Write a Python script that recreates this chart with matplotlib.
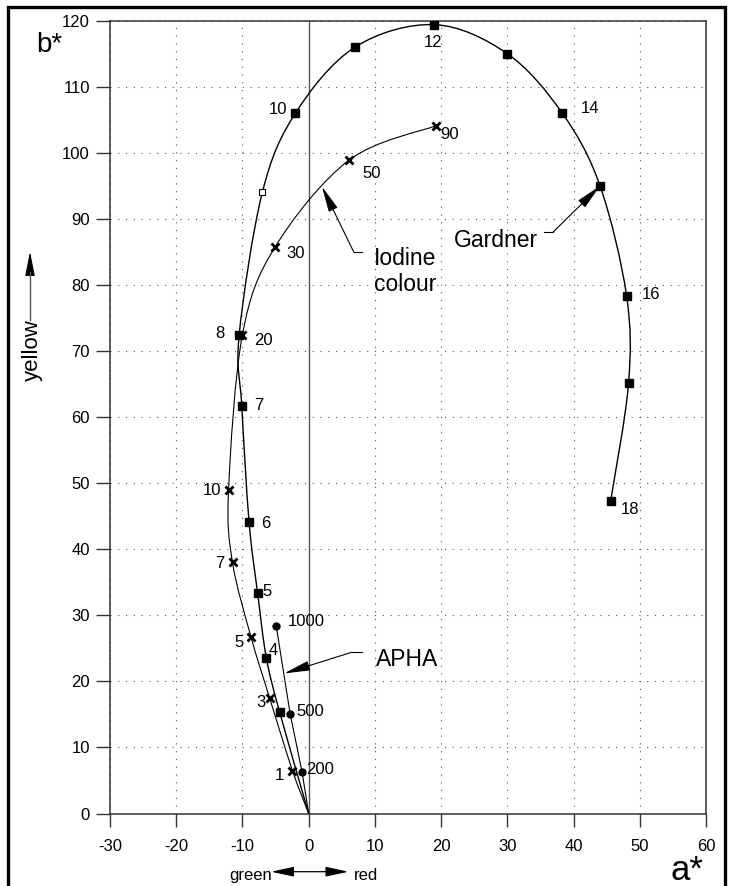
import numpy as np
import matplotlib
matplotlib.use("Agg")
import matplotlib.pyplot as plt
from matplotlib.path import Path
from matplotlib.patches import PathPatch, Rectangle, FancyArrowPatch
from matplotlib.lines import Line2D

plt.rcParams['font.family'] = ['Liberation Sans', 'DejaVu Sans']

# Gardner scale (filled squares, no. 9 drawn open)
gardner_num = [3, 4, 5, 6, 7, 8, 9, 10, 11, 12, 13, 14, 15, 16, 17, 18]
gardner_a = [-4.4, -6.4, -7.7, -9.0, -10.1, -10.5, -7.0, -2.0, 7.0, 19.0, 30.0, 38.3, 44.0, 48.0, 48.3, 45.6]
gardner_b = [15.4, 23.6, 33.3, 44.1, 61.7, 72.4, 94.0, 106.0, 116.0, 119.4, 115.0, 106.0, 95.0, 78.4, 65.1, 47.3]
gardner_open = [9]

# Iodine colour scale (crosses)
iodine_num = [1, 3, 5, 7, 10, 20, 30, 50, 90]
iodine_a = [-2.45, -5.9, -8.7, -11.5, -12.1, -10.0, -5.1, 6.1, 19.2]
iodine_b = [6.5, 17.5, 26.7, 38.0, 48.9, 72.5, 85.7, 98.9, 104.1]

# APHA scale (circles)
apha_num = [200, 500, 1000]
apha_a = [-1.0, -2.8, -4.9]
apha_b = [6.3, 15.1, 28.4]

x_ticks = np.arange(-30, 61, 10)
y_ticks = np.arange(0, 121, 10)

# label offsets in pixels (dx, dy)
gardner_off = {4: (7, 9), 5: (9, 3), 6: (17, 0), 7: (17, 2), 8: (-19, 3), 10: (-17, 5),
               12: (-1, -16), 14: (28, 6), 16: (24, 3), 18: (19, -7)}
iodine_off = {1: (-13, -3), 3: (-9, -3), 5: (-12, -4), 7: (-13, 0), 10: (-17, 1),
              20: (21, -4), 30: (21, -5), 50: (23, -12), 90: (14, -7)}
apha_off = {200: (18, 4), 500: (20, 4), 1000: (30, 6)}

W, H = 729, 886


def fx(px):
    return px / W


def fy(py):
    return 1 - py / H


def smooth_path(xs, ys):
    p = np.column_stack([xs, ys])
    ext = np.vstack([p[0], p, p[-1]])
    verts = [p[0]]
    codes = [Path.MOVETO]
    for i in range(len(p) - 1):
        p0, p1, p2, p3 = ext[i], ext[i + 1], ext[i + 2], ext[i + 3]
        verts += [p1 + (p2 - p0) / 6, p2 - (p3 - p1) / 6, p2]
        codes += [Path.CURVE4] * 3
    return Path(verts, codes)


fig = plt.figure(figsize=(W / 100, H / 100), dpi=100)
ax = fig.add_axes([fx(110), fy(813.5), fx(706) - fx(110), fy(20.7) - fy(813.5)])

ax.set_xlim(-30, 60)
ax.set_ylim(0, 120)
ax.set_xticks(x_ticks)
ax.set_yticks(y_ticks)
ax.set_xticklabels([str(v) for v in x_ticks])
ax.set_yticklabels([str(v) for v in y_ticks])
ax.tick_params(axis='x', direction='out', length=9.5, width=1.0, color='#333333', pad=9, labelsize=12)
ax.tick_params(axis='y', direction='out', length=10, width=1.0, color='#333333', pad=4.5, labelsize=12)
for s in ax.spines.values():
    s.set_color('#333333')
    s.set_linewidth(1.1)

ax.grid(True, color='#555555', linestyle=(0, (1, 6)), linewidth=0.8)
ax.axvline(0, color='#555555', linewidth=1.0, zorder=2)

# curves
g_path = smooth_path([0] + gardner_a, [0] + gardner_b)
ax.add_patch(PathPatch(g_path, facecolor='none', edgecolor='black', linewidth=1.0, zorder=3))
i_path = smooth_path([0] + iodine_a, [0] + iodine_b)
ax.add_patch(PathPatch(i_path, facecolor='none', edgecolor='black', linewidth=0.8, zorder=3))
ax.plot([0] + apha_a, [0] + apha_b, color='black', linewidth=0.8, zorder=3)

# markers
g_fill = [k for k, n in enumerate(gardner_num) if n not in gardner_open]
g_open = [k for k, n in enumerate(gardner_num) if n in gardner_open]
ax.plot([gardner_a[k] for k in g_fill], [gardner_b[k] for k in g_fill], 's', color='black',
        markersize=5.2, zorder=4)
ax.plot([gardner_a[k] for k in g_open], [gardner_b[k] for k in g_open], 's', markerfacecolor='white',
        markeredgecolor='black', markeredgewidth=0.8, markersize=4.3, zorder=4)
ax.plot(iodine_a, iodine_b, 'x', color='black', markersize=5.5, markeredgewidth=2.0, zorder=4)
ax.plot(apha_a, apha_b, 'o', color='black', markersize=5, zorder=4)

# number labels
for n, a, b in zip(gardner_num, gardner_a, gardner_b):
    if n in gardner_off:
        ax.annotate(str(n), (a, b), xytext=gardner_off[n], textcoords='offset pixels',
                    ha='center', va='center_baseline', fontsize=12)
for n, a, b in zip(iodine_num, iodine_a, iodine_b):
    ax.annotate(str(n), (a, b), xytext=iodine_off[n], textcoords='offset pixels',
                ha='center', va='center_baseline', fontsize=12)
for n, a, b in zip(apha_num, apha_a, apha_b):
    ax.annotate(str(n), (a, b), xytext=apha_off[n], textcoords='offset pixels',
                ha='center', va='center_baseline', fontsize=12)

# scale names with leader arrows
arrow_style = '-|>,head_length=1.6,head_width=0.3'
ax.text(9.9, 83.0, 'Iodine', fontsize=16.5, ha='left', va='baseline')
ax.text(9.9, 79.1, 'colour', fontsize=16.5, ha='left', va='baseline')
ax.plot([8.0, 6.8], [85.0, 85.0], color='black', linewidth=0.8)
ax.annotate('', xy=(2.0, 94.9), xytext=(6.8, 85.0),
            arrowprops=dict(arrowstyle=arrow_style, color='black', lw=0.8, shrinkA=0, shrinkB=0,
                            mutation_scale=10))

ax.text(22.0, 85.8, 'Gardner', fontsize=16.5, ha='left', va='baseline')
ax.plot([35.6, 36.9], [88.0, 88.0], color='black', linewidth=0.8)
ax.annotate('', xy=(44.0, 95.0), xytext=(36.9, 88.0),
            arrowprops=dict(arrowstyle=arrow_style, color='black', lw=0.8, shrinkA=0, shrinkB=0,
                            mutation_scale=10))

ax.text(10.2, 22.3, 'APHA', fontsize=16.5, ha='left', va='baseline')
ax.plot([8.0, 6.5], [24.4, 24.4], color='black', linewidth=0.8)
ax.annotate('', xy=(-3.7, 21.2), xytext=(6.5, 24.4),
            arrowprops=dict(arrowstyle=arrow_style, color='black', lw=0.8, shrinkA=0, shrinkB=0,
                            mutation_scale=10))

# axis names outside the plot
fig.text(fx(36), fy(51.7), 'b*', fontsize=20, ha='left', va='baseline')
fig.text(fx(671), fy(880), 'a*', fontsize=25, ha='left', va='baseline')
fig.text(fx(32), fy(350), 'yellow', fontsize=16, rotation=90, ha='center', va='center')
fig.add_artist(Line2D([fx(30), fx(30)], [fy(320), fy(272)], color='#555555', linewidth=1.0,
                      transform=fig.transFigure))
fig.add_artist(FancyArrowPatch((fx(30), fy(274)), (fx(30), fy(251.7)), transform=fig.transFigure,
                               arrowstyle='-|>,head_length=15,head_width=3', color='black',
                               linewidth=0.8, shrinkA=0, shrinkB=0))

fig.text(fx(272), fy(880), 'green', fontsize=12, ha='right', va='baseline')
fig.text(fx(354), fy(880), 'red', fontsize=12, ha='left', va='baseline')
fig.add_artist(FancyArrowPatch((fx(271), fy(871.7)), (fx(348.5), fy(871.7)), transform=fig.transFigure,
                               arrowstyle='<|-|>,head_length=14,head_width=3', color='black',
                               linewidth=0.9, shrinkA=0, shrinkB=0))

# outer frame
fig.add_artist(Rectangle((fx(8), fy(900)), fx(724.5) - fx(8), fy(6.5) - fy(900), transform=fig.transFigure,
                         facecolor='none', edgecolor='black', linewidth=2.4, clip_on=False))

fig.savefig('out.png', dpi=100)
